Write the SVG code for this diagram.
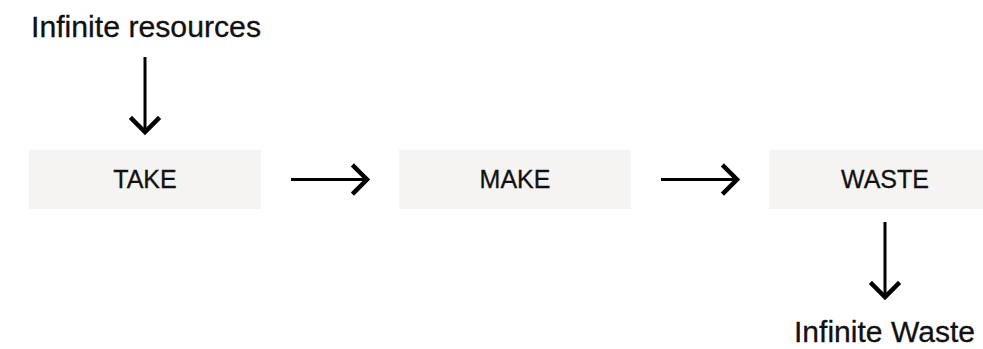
<svg xmlns="http://www.w3.org/2000/svg" width="983" height="349" viewBox="0 0 983 349">
<style>
.box{fill:#f5f4f2}
.lbl{font-family:"Liberation Sans",Arial,sans-serif;font-size:25px;fill:#111;text-anchor:middle;stroke:#111;stroke-width:0.3}
.ext{font-family:"Liberation Sans",Arial,sans-serif;font-size:29px;fill:#111;stroke:#111;stroke-width:0.3}
.ln{stroke:#000;stroke-width:3;fill:none}
.hd{stroke:#000;stroke-width:4.5;fill:none;stroke-linecap:square;stroke-linejoin:miter}
</style>
<rect width="983" height="349" fill="#fff"/>
<g id="src"><text class="ext" x="31" y="37" textLength="230" lengthAdjust="spacingAndGlyphs">Infinite resources</text></g>
<g id="take"><rect class="box" x="29" y="150" width="232" height="59"/><text class="lbl" x="145" y="188">TAKE</text></g>
<g id="make"><rect class="box" x="399" y="150" width="232" height="59"/><text class="lbl" x="515" y="188">MAKE</text></g>
<g id="waste"><rect class="box" x="769" y="150" width="232" height="59"/><text class="lbl" x="885" y="188">WASTE</text></g>
<g id="sink"><text class="ext" x="794" y="342" textLength="181" lengthAdjust="spacingAndGlyphs">Infinite Waste</text></g>
<g id="connectors">
<line class="ln" x1="145" y1="57" x2="145" y2="131"/>
<polyline class="hd" points="132,119 145,132 158,119"/>
<line class="ln" x1="291" y1="179.5" x2="366" y2="179.5"/>
<polyline class="hd" points="354,166.5 367,179.5 354,192.5"/>
<line class="ln" x1="661" y1="179.5" x2="736" y2="179.5"/>
<polyline class="hd" points="724,166.5 737,179.5 724,192.5"/>
<line class="ln" x1="885" y1="222" x2="885" y2="296"/>
<polyline class="hd" points="872,284 885,297 898,284"/>
</g>
</svg>
